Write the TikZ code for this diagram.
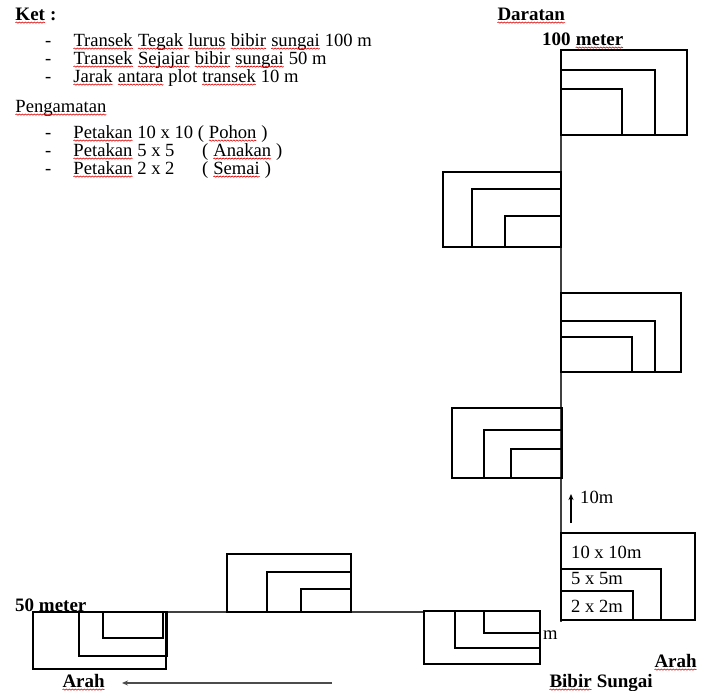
\documentclass[tikz,border=0pt]{standalone}
\usepackage{fontspec}
\setmainfont{Liberation Serif}
\usetikzlibrary{arrows.meta,decorations.pathmorphing}
\newcommand\sq[1]{\tikz[baseline=(w.base)]{\node[inner sep=0pt,outer sep=0pt,anchor=base,draw=none] (w) at (0,0) {#1};\draw[red!85!black,line width=0.6pt,decorate,decoration={snake,amplitude=0.6pt,segment length=3pt}] ([yshift=-2.6pt]w.base west) -- ([yshift=-2.6pt]w.base east);}}
\begin{document}
\begin{tikzpicture}[x=1pt,y=-1pt,
  txt/.style={anchor=base west, inner sep=0pt, font=\fontsize{18.6}{19}\selectfont},
  btxt/.style={anchor=base west, inner sep=0pt, font=\fontsize{19}{19}\selectfont\bfseries},
  plot/.style={draw=black, line width=1.2pt},
  axis/.style={draw=black!75, line width=1.3pt}]
\useasboundingbox (0,0) rectangle (702,691);

% legend text
\node[btxt] (ket) at (15,20) {\sq{Ket} :};
\node[txt] (d1) at (45,46) {-};
\node[txt] (d2) at (45,64) {-};
\node[txt] (d3) at (45,82) {-};
\node[txt] (t1) at (73,46) {\sq{Transek} \sq{Tegak} \sq{lurus} \sq{bibir} \sq{sungai} 100 m};
\node[txt] (t2) at (73,64) {\sq{Transek} \sq{Sejajar} \sq{bibir} \sq{sungai} 50 m};
\node[txt] (t3) at (73,82) {\sq{Jarak} \sq{antara} plot \sq{transek} 10 m};
\node[txt] (peng) at (15,112) {\sq{Pengamatan}};
\node[txt] (e1) at (45,138) {-};
\node[txt] (e2) at (45,156) {-};
\node[txt] (e3) at (45,174) {-};
\node[txt] (p1) at (73,138) {\sq{Petakan} 10 x 10 ( \sq{Pohon} )};
\node[txt] (p2) at (73,156) {\sq{Petakan} 5 x 5};
\node[txt] (p2b) at (202,156) {( \sq{Anakan} )};
\node[txt] (p3) at (73,174) {\sq{Petakan} 2 x 2};
\node[txt] (p3b) at (202,174) {( \sq{Semai} )};

% labels
\node[btxt] (darat) at (497,20) {\sq{Daratan}};
\node[btxt] (m100) at (542,45) {100 \sq{meter}};
\node[btxt] (m50) at (15,611) {50 meter};
\node[btxt] (arahL) at (62,687) {\sq{Arah}};
\node[btxt] (arahR) at (654,667) {\sq{Arah}};
\node[btxt] (bibir) at (549,687) {\sq{Bibir} Sungai};
\node[txt] (m10) at (580,503) {10m};
\node[txt] (mm) at (543,639) {m};

% axes
\coordinate (vtop) at (561,50);
\coordinate (vbot) at (561,622);
\draw[axis] (vtop) -- (vbot);
\coordinate (hl) at (167,612);
\coordinate (hr) at (424,612);
\draw[axis] (hl) -- (hr);

% direction arrows
\coordinate (a1) at (332,683);
\coordinate (a2) at (122,683);
\draw[draw=black!70, line width=1.2pt, -{Stealth[length=6pt,width=5pt]}] (a1) -- (a2);
\coordinate (b1) at (571,523);
\coordinate (b2) at (571,494);
\draw[line width=1.5pt, -{Stealth[length=6pt,width=5pt]}] (b1) -- (b2);

% plot 1 (top right)
\draw[plot] (561,50) rectangle (687,135);
\draw[plot] (561,70) rectangle (655,135);
\draw[plot] (561,89) rectangle (622,135);
% plot 2 (left)
\draw[plot] (443,172) rectangle (561,247);
\draw[plot] (472,189) rectangle (561,247);
\draw[plot] (505,216) rectangle (561,247);
% plot 3 (right)
\draw[plot] (561,293) rectangle (681,372);
\draw[plot] (561,321) rectangle (655,372);
\draw[plot] (561,337) rectangle (632,372);
% plot 4 (left)
\draw[plot] (452,408) rectangle (562,478);
\draw[plot] (484,430) rectangle (562,478);
\draw[plot] (511,449) rectangle (562,478);
% plot 5 (bottom right, labelled)
\draw[plot] (561,533) rectangle (695,620);
\draw[plot] (561,569) rectangle (661,620);
\draw[plot] (561,591) rectangle (633,620);
\node[txt] (l10) at (571,558) {10 x 10m};
\node[txt] (l5) at (571,584) {5 x 5m};
\node[txt] (l2) at (571,612) {2 x 2m};
% plot 6 (bottom, below line)
\draw[plot] (424,611) rectangle (540,664);
\draw[plot] (455,611) rectangle (540,648);
\draw[plot] (484,611) rectangle (540,633);
% plot 7 (bottom, above line)
\draw[plot] (227,554) rectangle (351,612);
\draw[plot] (267,572) rectangle (351,612);
\draw[plot] (301,589) rectangle (351,612);
% plot 8 (bottom left, below line)
\draw[plot] (33,612) rectangle (166,669);
\draw[plot] (79,612) rectangle (167,656);
\draw[plot] (103,612) rectangle (163,638);
\end{tikzpicture}
\end{document}
